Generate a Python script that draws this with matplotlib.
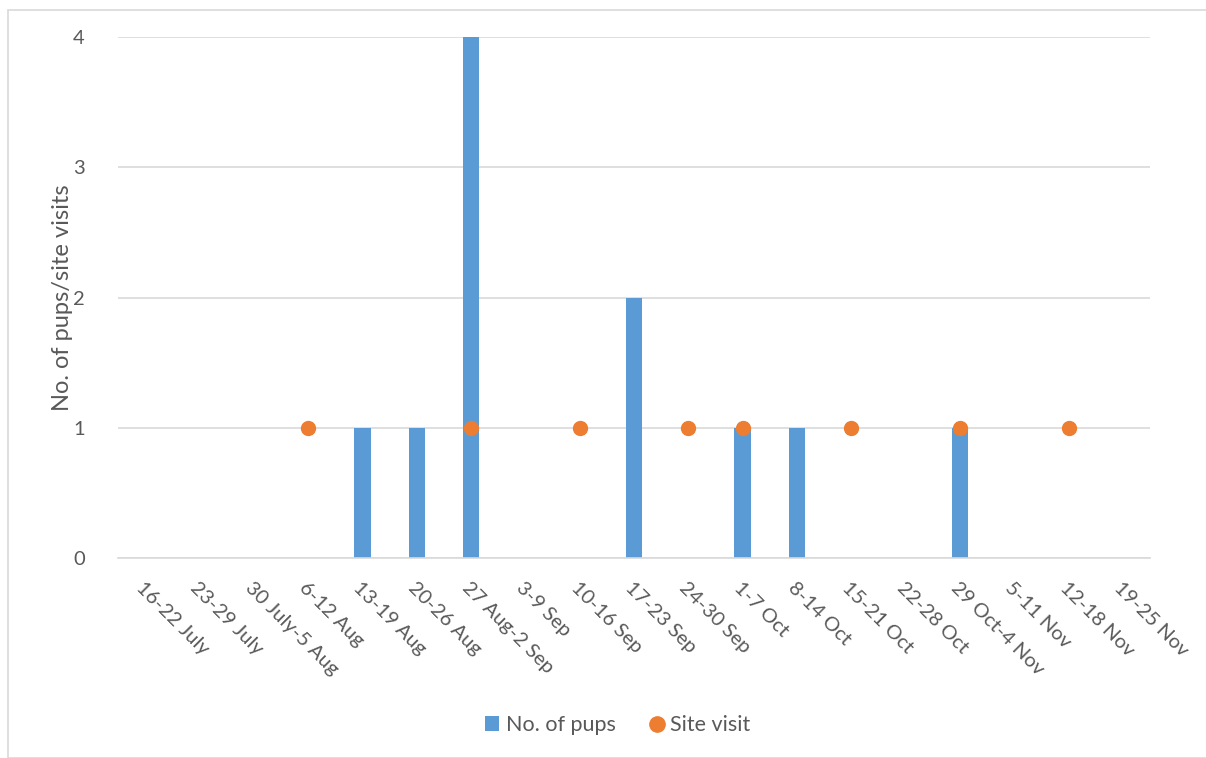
import matplotlib.pyplot as plt
import matplotlib.transforms as mtransforms
import numpy as np
from matplotlib.patches import Rectangle, Patch
from matplotlib.lines import Line2D

weeks = ["16-22 July", "23-29 July", "30 July-5 Aug", "6-12 Aug", "13-19 Aug",
         "20-26 Aug", "27 Aug-2 Sep", "3-9 Sep", "10-16 Sep", "17-23 Sep",
         "24-30 Sep", "1-7 Oct", "8-14 Oct", "15-21 Oct", "22-28 Oct",
         "29 Oct-4 Nov", "5-11 Nov", "12-18 Nov", "19-25 Nov"]
pups = [0, 0, 0, 0, 1, 1, 4, 0, 0, 2, 0, 1, 1, 0, 0, 1, 0, 0, 0]
site_visit = [None, None, None, 1, None, None, 1, None, 1, None,
              1, 1, None, 1, None, 1, None, 1, None]

blue = "#5B9BD5"
orange = "#ED7D31"
text_col = "#595959"

plt.rcParams["font.family"] = ["Lato", "DejaVu Sans"]

fig = plt.figure(figsize=(12.06, 7.58), dpi=100)
ax = fig.add_axes([118 / 1206, 1 - 558 / 758, (1150 - 118) / 1206, (558 - 37) / 758])

x = np.arange(len(weeks))
ax.bar(x, pups, width=0.3, color=blue, zorder=2)

# site visits only where a visit happened
vx = [i for i, v in enumerate(site_visit) if v is not None]
vy = [v for v in site_visit if v is not None]
ax.plot(vx, vy, "o", color=orange, markersize=10, zorder=3, linestyle="none")

ax.set_xlim(-0.5, len(weeks) - 0.5)
ax.set_ylim(0, 4)
ax.set_yticks([0, 1, 2, 3, 4])
ax.yaxis.grid(True, color="#D9D9D9", linewidth=1.2, zorder=0)
ax.set_axisbelow(True)
for s in ["top", "right", "left"]:
    ax.spines[s].set_visible(False)
ax.spines["bottom"].set_color("#D9D9D9")
ax.spines["bottom"].set_linewidth(1.2)
ax.tick_params(axis="both", length=0, labelsize=14.5, colors=text_col)
ax.tick_params(axis="y", pad=24)

ax.set_xticks(x)
ax.set_xticklabels(weeks, rotation=-45, ha="left", va="top",
                   rotation_mode="anchor")
shift = mtransforms.ScaledTranslation(-6 / 100, 0, fig.dpi_scale_trans)
for lbl in ax.get_xticklabels():
    lbl.set_transform(lbl.get_transform() + shift)
ax.tick_params(axis="x", pad=15)

ax.set_ylabel("No. of pups/site visits", fontsize=17, color=text_col, labelpad=0)

handles = [Patch(facecolor=blue, edgecolor="none"),
           Line2D([], [], marker="o", color=orange, linestyle="none", markersize=11)]
leg = fig.legend(handles, ["No. of pups", "Site visit"], loc="center",
                 bbox_to_anchor=(618 / 1206, 1 - 725 / 758), ncol=2,
                 frameon=False, fontsize=15.5, handlelength=0.65, handleheight=0.65,
                 handletextpad=0.3, columnspacing=1.6)
for t in leg.get_texts():
    t.set_color(text_col)

# outer chart frame, cropped at right and bottom
fig.patches.append(Rectangle((8 / 1206, 0), 1.2, 1 - 10 / 758, transform=fig.transFigure,
                             fill=False, edgecolor="#D9D9D9", linewidth=1.2))

fig.savefig("out.png", dpi=100)
